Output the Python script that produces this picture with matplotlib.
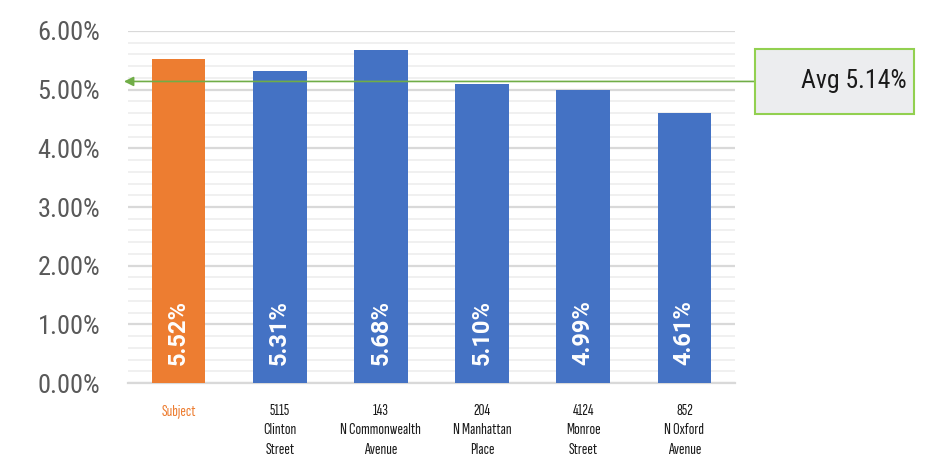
import numpy as np
import matplotlib.pyplot as plt
from matplotlib.patches import Rectangle

# cap rates per property
labels = ['Subject', '5115\nClinton\nStreet', '143\nN Commonwealth\nAvenue',
          '204\nN Manhattan\nPlace', '4124\nMonroe\nStreet', '852\nN Oxford\nAvenue']
rates = [5.52, 5.31, 5.68, 5.10, 4.99, 4.61]
avg = 5.14

orange = '#ED7D31'
blue = '#4472C4'
green = '#70AD47'
narrow = ['Roboto Condensed', 'Archivo Narrow', 'Roboto']
xfont = ['Sofia Sans Extra Condensed', 'Saira ExtraCondensed', 'DejaVu Sans']

fig = plt.figure(figsize=(9.3, 4.66), dpi=100)
ax = fig.add_axes([0.1376, 0.178, 0.6527, 0.7555])

x = np.arange(len(rates))
colors = [orange] + [blue] * (len(rates) - 1)
ax.bar(x, rates, width=0.53, color=colors, zorder=3)

# value labels inside the bars, rotated
for xi, r in zip(x, rates):
    ax.text(xi, 0.3, '%.2f%%' % r, rotation=90, ha='center', va='bottom',
            color='white', fontsize=17, fontweight='bold', family='Roboto', zorder=4)

ax.set_xlim(-0.5, len(rates) - 0.5)
ax.set_ylim(0, 6)
ax.set_yticks(np.arange(0, 6.01, 1))
ax.set_yticklabels(['%.2f%%' % v for v in np.arange(0, 6.01, 1)])
ax.set_yticks(np.arange(0, 6.01, 0.2), minor=True)
ax.grid(axis='y', which='major', color='#D9D9D9', lw=1.6, zorder=0)
ax.grid(axis='y', which='minor', color='#F0F0F0', lw=1.4, zorder=0)
ax.tick_params(axis='y', which='both', length=0, labelsize=19, labelcolor='#595959', pad=20)
for t in ax.get_yticklabels():
    t.set_family(narrow)

ax.set_xticks(x)
ax.set_xticklabels(labels, fontsize=12, linespacing=1.5, family=xfont, fontweight='bold')
ax.tick_params(axis='x', length=0, pad=15)
for i, t in enumerate(ax.get_xticklabels()):
    t.set_color(orange if i == 0 else '#1a1a1a')
    t.set_va('top')

for s in ['top', 'right', 'left']:
    ax.spines[s].set_visible(False)
ax.spines['bottom'].set_color('#D9D9D9')
ax.spines['bottom'].set_linewidth(1.6)

# average callout
tr = ax.get_yaxis_transform()
ax.annotate('', xy=(-0.0066, avg), xytext=(1.033, avg),
            xycoords=tr, textcoords=tr,
            arrowprops=dict(arrowstyle='-|>', color=green, lw=1.2,
                            mutation_scale=14, shrinkA=0, shrinkB=0),
            annotation_clip=False, zorder=5)
box = Rectangle((1.033, avg - 0.554), 0.262, 1.108, transform=tr,
                facecolor='#ECEDEF', edgecolor='#92D050', lw=1.5, clip_on=False, zorder=5)
ax.add_patch(box)
ax.text(1.283, avg, 'Avg %.2f%%' % avg, transform=tr, ha='right', va='center',
        fontsize=18.5, color='#1a1a1a', family=narrow, zorder=6)

fig.savefig('out.png', dpi=100)
